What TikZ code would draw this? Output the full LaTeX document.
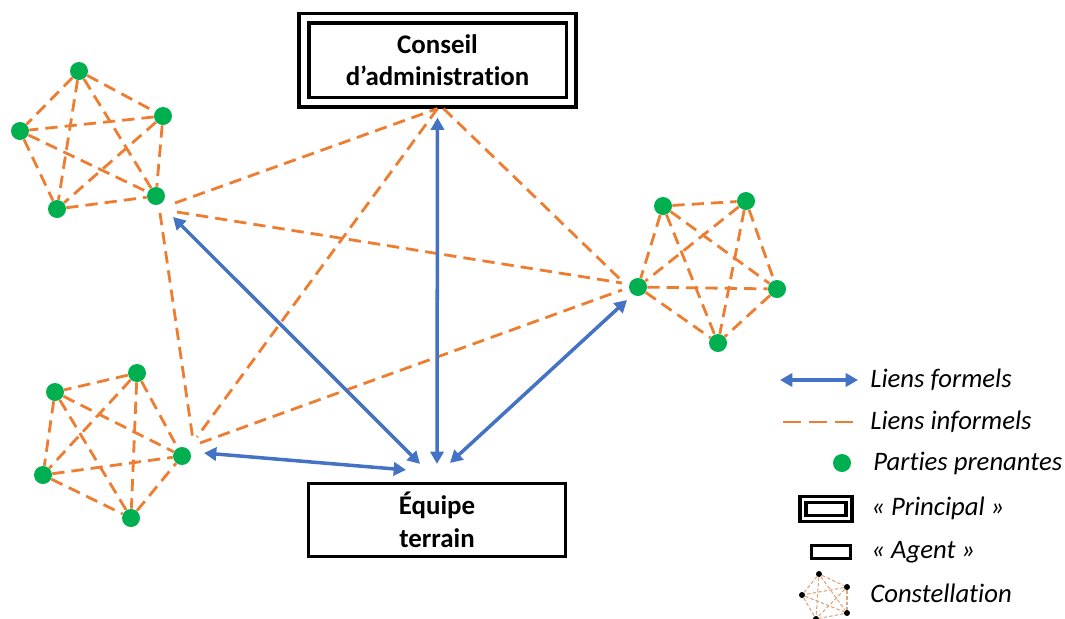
\documentclass[tikz,border=0pt]{standalone}
\usepackage{fontspec}
\setmainfont{Carlito}[Ligatures=NoCommon]
\usetikzlibrary{arrows.meta, positioning}

\definecolor{linkorange}{RGB}{237,125,49}
\definecolor{linkblue}{RGB}{68,114,196}
\definecolor{dotgreen}{RGB}{0,176,80}
\definecolor{linktan}{RGB}{222,165,125}

\newcommand\boxfont{\bfseries\fontsize{15.3}{18.5}\selectfont}
\newcommand\legendfont{\itshape\fontsize{15.2}{17}\selectfont}

\tikzset{
  informal/.style={linkorange, line width=1.6pt, dash pattern=on 7pt off 4pt},
  formal/.style={linkblue, line width=2pt, {Triangle[length=7pt,width=7.5pt]}-{Triangle[length=7pt,width=7.5pt]}},
  party/.style={circle, fill=dotgreen, minimum size=3.6mm, inner sep=0pt},
  minidot/.style={circle, fill=black, minimum size=1.2mm, inner sep=0pt},
  principal/.style={draw, line width=1.8pt, double, double distance=3.8pt, minimum width=53.4mm, minimum height=16.8mm, align=center, font=\boxfont},
  agent/.style={draw, line width=1.8pt, minimum width=51.4mm, minimum height=14.6mm, align=center, font=\boxfont},
  legend/.style={anchor=west, font=\legendfont, inner sep=0pt},
}

\begin{document}
\begin{tikzpicture}[x=0.2mm, y=-0.2mm]
\useasboundingbox (0,0) rectangle (1065,618);

\node[principal] (conseil) at (437.5,60) {Conseil\\d’administration};
\node[agent] (equipe) at (437,520) {Équipe\\terrain};

% three constellations of stakeholders
\node[party] (p1) at (79,71) {};
\node[party] (p2) at (163,116) {};
\node[party] (p3) at (20,131) {};
\node[party] (p4) at (57,209) {};
\node[party] (p5) at (156,196) {};

\node[party] (q1) at (137,373) {};
\node[party] (q2) at (55,392) {};
\node[party] (q3) at (43,475) {};
\node[party] (q4) at (131,518) {};
\node[party] (q5) at (182,456) {};

\node[party] (r1) at (663,206) {};
\node[party] (r2) at (746,201) {};
\node[party] (r3) at (638,287) {};
\node[party] (r4) at (777,289) {};
\node[party] (r5) at (718,343) {};

\foreach \c in {p,q,r}
  \foreach \i [evaluate=\i as \k using int(\i+1)] in {1,...,4}
    \foreach \j in {\k,...,5}
      \draw[informal] (\c\i) -- (\c\j);

% informal links between constellations and boxes
\draw[informal] ([shift={(19,7)}]p5.center) -- ([shift={(0,5)}]conseil.south);
\draw[informal] ([shift={(21,16)}]p5.center) -- ([shift={(-16,-4)}]r3.center);
\draw[informal] ([shift={(4,17)}]p5.center) -- ([shift={(11,-16)}]q5.center);
\draw[informal] ([shift={(6,5)}]conseil.south) -- ([shift={(-16,-6)}]r3.center);
\draw[informal] ([shift={(0,5)}]conseil.south) -- ([shift={(15,-19)}]q5.center);
\draw[informal] ([shift={(18,-13)}]q5.center) -- ([shift={(-16,3)}]r3.center);

% formal links
\draw[formal] ([shift={(17,21)}]p5.center) -- ([shift={(-17,-18)}]equipe.north);
\draw[formal] ([shift={(0,14)}]conseil.south) -- ([shift={(0,-18)}]equipe.north);
\draw[formal] ([shift={(-11,13)}]r3.center) -- ([shift={(13,-19)}]equipe.north);
\draw[formal] ([shift={(22,-3)}]q5.center) -- ([shift={(-31,-12)}]equipe.north);

% legend
\node[legend] (lformal) at (870,380) {Liens formels};
\node[legend] (linformal) at (870,422) {Liens informels};
\node[legend] (lparty) at (873,463) {Parties prenantes};
\node[legend] (lprincipal) at (871,508) {«~Principal~»};
\node[legend] (lagent) at (871,552) {«~Agent~»};
\node[legend] (lconst) at (870,593) {Constellation};

\draw[formal] ([shift={(-90,0)}]lformal.west) -- ([shift={(-12,0)}]lformal.west);
\draw[informal, dash pattern=on 10.2pt off 4.5pt] ([shift={(-87,0)}]linformal.west) -- ([shift={(-17,0)}]linformal.west);
\node[party] (kparty) at (842,463) {};
\node[principal, minimum width=9.2mm, minimum height=3.9mm, inner sep=0pt, line width=1.8pt, double distance=1.6pt] (kprincipal) at (826,509) {};
\node[agent, minimum width=7.8mm, minimum height=2.6mm, inner sep=0pt, line width=1.7pt] (kagent) at (830.5,551.5) {};

\node[minidot] (k1) at (819,574) {};
\node[minidot] (k2) at (847,587) {};
\node[minidot] (k3) at (802,595) {};
\node[minidot] (k4) at (847,613) {};
\node[minidot] (k5) at (816,619) {};
\foreach \i [evaluate=\i as \k using int(\i+1)] in {1,...,4}
  \foreach \j in {\k,...,5}
    \draw[linktan, line width=0.6pt, dash pattern=on 2pt off 1.2pt] (k\i) -- (k\j);
\end{tikzpicture}
\end{document}
